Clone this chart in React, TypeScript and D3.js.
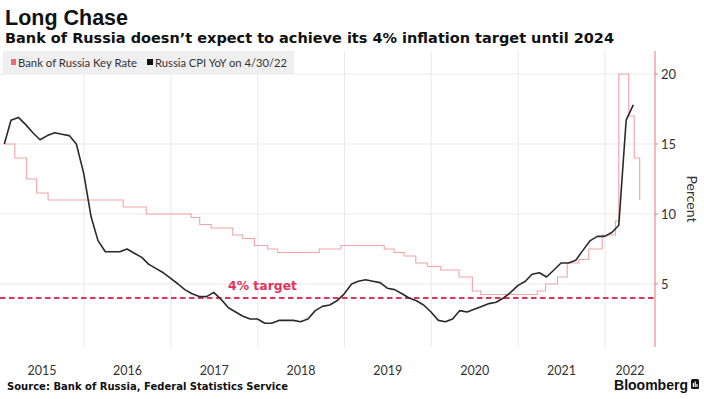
import React from "react";
import * as d3 from "d3";

// Bank of Russia key rate decisions (effective date, %)
const rateDates = [
  "2015-02-02", "2015-03-16", "2015-05-05", "2015-06-16", "2015-08-03",
  "2016-06-14", "2016-09-19", "2017-03-27", "2017-05-02", "2017-06-19",
  "2017-09-18", "2017-10-30", "2017-12-18", "2018-02-12", "2018-03-26",
  "2018-09-17", "2018-12-17", "2019-06-17", "2019-07-29", "2019-09-09",
  "2019-10-28", "2019-12-16", "2020-02-10", "2020-04-27", "2020-06-22",
  "2020-07-27", "2021-03-22", "2021-04-26", "2021-06-15", "2021-07-26",
  "2021-09-13", "2021-10-25", "2021-12-20", "2022-02-14", "2022-02-28",
  "2022-04-11", "2022-05-04", "2022-05-27",
];
const rateValues = [
  15, 14, 12.5, 11.5, 11,
  10.5, 10, 9.75, 9.25, 9,
  8.5, 8.25, 7.75, 7.5, 7.25,
  7.5, 7.75, 7.5, 7.25, 7,
  6.5, 6.25, 6, 5.5, 4.5,
  4.25, 4.5, 5, 5.5, 6.5,
  6.75, 7.5, 8.5, 9.5, 20,
  17, 14, 11,
];

// Russia CPI YoY, monthly from Jan 2015
const cpiStart = "2015-01";
const cpiValues = [
  15.0, 16.7, 16.9, 16.4, 15.8, 15.3, 15.6, 15.8, 15.7, 15.6, 15.0, 12.9,
  9.8, 8.1, 7.3, 7.3, 7.3, 7.5, 7.2, 6.9, 6.4, 6.1, 5.8, 5.4,
  5.0, 4.6, 4.3, 4.1, 4.1, 4.4, 3.9, 3.3, 3.0, 2.7, 2.5, 2.5,
  2.2, 2.2, 2.4, 2.4, 2.4, 2.3, 2.5, 3.1, 3.4, 3.5, 3.8, 4.3,
  5.0, 5.2, 5.3, 5.2, 5.1, 4.7, 4.6, 4.3, 4.0, 3.8, 3.5, 3.0,
  2.4, 2.3, 2.5, 3.1, 3.0, 3.2, 3.4, 3.6, 3.7, 4.0, 4.4, 4.9,
  5.2, 5.7, 5.8, 5.5, 6.0, 6.5, 6.5, 6.7, 7.4, 8.1, 8.4, 8.4,
  8.7, 9.2, 16.7, 17.8,
];

const yearLabels = ["2015", "2016", "2017", "2018", "2019", "2020", "2021", "2022"];
const yTicks = [5, 10, 15, 20];
const target = 4;

const W = 704;
const H = 399;
const plotRight = 655;
const plotTop = 51;
const plotBottom = 347;

const parseDay = d3.timeParse("%Y-%m-%d");
const parseMonth = d3.timeParse("%Y-%m");

export default function App() {
  const x = d3
    .scaleTime()
    .domain([new Date(2015, 0, 1), new Date(2022, 0, 1)])
    .range([-2.8, 605]);
  const y = d3.scaleLinear().domain([0, 20]).range([354, 74]);

  const rateData = rateDates.map((d, i) => ({ date: parseDay(d) as Date, v: rateValues[i] }));
  const start = parseMonth(cpiStart) as Date;
  // monthly readings plotted at month end
  const cpiData = cpiValues.map((v, i) => ({
    date: d3.timeDay.offset(d3.timeMonth.offset(start, i + 1), -1),
    v,
  }));

  const rateLine = d3
    .line<{ date: Date; v: number }>()
    .x((d) => x(d.date))
    .y((d) => y(d.v))
    .curve(d3.curveStepAfter);
  const cpiLine = d3
    .line<{ date: Date; v: number }>()
    .x((d) => x(d.date))
    .y((d) => y(d.v));

  const yearStarts = yearLabels.map((yr) => new Date(+yr, 0, 1));
  const gridYears = yearStarts.slice(1);
  const labelX = yearLabels.map((yr) => {
    const a = Math.max(0, x(new Date(+yr, 0, 1)));
    const b = Math.min(plotRight, x(new Date(+yr + 1, 0, 1)));
    return (a + b) / 2;
  });

  const sans = "Lato, 'Liberation Sans', sans-serif";
  const bold = "'DejaVu Sans', Verdana, sans-serif";

  return (
    <div style={{ position: "absolute", left: 0, top: 0 }}>
      <svg width={W} height={H} style={{ display: "block", background: "#fff" }}>
        {/* title */}
        <text x={5} y={25} fontFamily="'Liberation Sans', Arial, sans-serif" fontWeight={700} fontSize={21.5} fill="#111">
          Long Chase
        </text>
        <text
          x={5}
          y={43}
          fontFamily={bold}
          fontWeight={700}
          fontSize={14}
          fill="#111"
          textLength={609}
          lengthAdjust="spacingAndGlyphs"
        >
          Bank of Russia doesn’t expect to achieve its 4% inflation target until 2024
        </text>

        {/* grid */}
        {gridYears.map((d, i) => (
          <line key={"gx" + i} x1={x(d)} x2={x(d)} y1={plotTop} y2={plotBottom} stroke="#e9e9e9" strokeWidth={1} />
        ))}
        {yTicks.map((t) => (
          <line key={"gy" + t} x1={0} x2={plotRight} y1={y(t)} y2={y(t)} stroke="#e9e9e9" strokeWidth={1} />
        ))}

        {/* legend */}
        <rect x={3} y={51} width={291} height={23} fill="#efefef" />
        <rect x={11} y={59} width={5} height={6} fill="#ee6b72" />
        <text x={18} y={66.5} fontFamily={sans} fontSize={11} fill="#333" textLength={119} lengthAdjust="spacingAndGlyphs">
          Bank of Russia Key Rate
        </text>
        <rect x={147} y={59} width={6} height={6} fill="#111" />
        <text x={155} y={66.5} fontFamily={sans} fontSize={11} fill="#333" textLength={132} lengthAdjust="spacingAndGlyphs">
          Russia CPI YoY on 4/30/22
        </text>

        {/* target */}
        <line
          x1={0}
          x2={plotRight}
          y1={y(target)}
          y2={y(target)}
          stroke="#e3335b"
          strokeWidth={2}
          strokeDasharray="5.5,3.5"
        />
        <text
          x={228}
          y={290}
          fontFamily={bold}
          fontWeight={700}
          fontSize={12.5}
          fill="#e3335b"
          textLength={69}
          lengthAdjust="spacingAndGlyphs"
        >
          4% target
        </text>

        {/* series */}
        <path d={rateLine(rateData) || ""} fill="none" stroke="#f2a3a6" strokeWidth={1.1} />
        <path d={cpiLine(cpiData) || ""} fill="none" stroke="#2a2a2a" strokeWidth={1.6} strokeLinejoin="round" />

        {/* right axis */}
        <line x1={plotRight} x2={plotRight} y1={plotTop} y2={plotBottom} stroke="#ea7479" strokeWidth={1} />
        {yTicks.map((t) => (
          <g key={"t" + t}>
            <line x1={plotRight} x2={plotRight + 3} y1={y(t)} y2={y(t)} stroke="#ea7479" />
            <text x={661} y={y(t)} dy="0.35em" fontFamily={sans} fontSize={13} fill="#333">
              {t}
            </text>
          </g>
        ))}
        <text
          transform={`translate(687,${y(11.07)}) rotate(90)`}
          textAnchor="middle"
          fontFamily={sans}
          fontSize={14}
          fill="#333"
        >
          Percent
        </text>

        {/* x labels */}
        {yearLabels.map((yr, i) => (
          <text key={yr} x={labelX[i]} y={375} textAnchor="middle" fontFamily={sans} fontSize={12.5} fill="#333">
            {yr}
          </text>
        ))}

        {/* footer */}
        <text
          x={7}
          y={390}
          fontFamily={bold}
          fontWeight={700}
          fontSize={10.5}
          fill="#111"
          textLength={281}
          lengthAdjust="spacingAndGlyphs"
        >
          Source: Bank of Russia, Federal Statistics Service
        </text>
        <text x={614} y={390} fontFamily="'Liberation Sans', Arial, sans-serif" fontWeight={700} fontSize={14} fill="#111" textLength={74} lengthAdjust="spacingAndGlyphs">
          Bloomberg
        </text>
        <g transform="translate(691,379)">
          <rect x={0} y={0} width={8} height={10} rx={1.5} fill="#111" />
          <rect x={1.8} y={4} width={1.2} height={4} fill="#fff" />
          <rect x={3.6} y={2.5} width={1.2} height={5.5} fill="#fff" />
          <rect x={5.4} y={5} width={1.2} height={3} fill="#fff" />
        </g>
      </svg>
    </div>
  );
}
